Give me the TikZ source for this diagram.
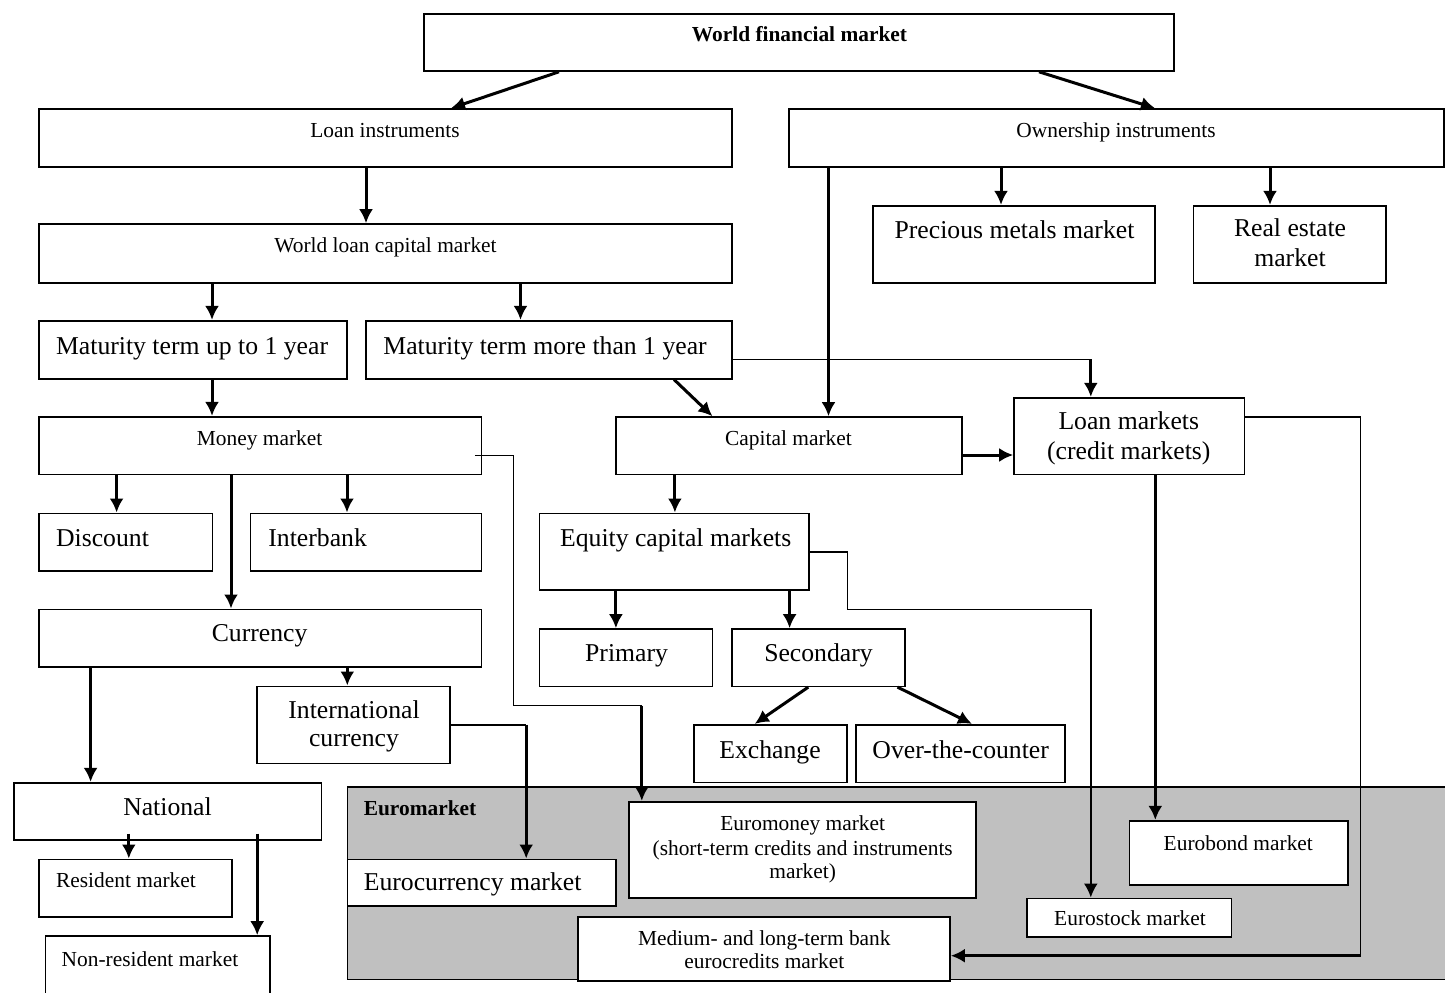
\documentclass[tikz,border=0pt]{standalone}
\usepackage{fontspec}
\setmainfont{Liberation Serif}
\usetikzlibrary{arrows.meta,fit}
\newcommand\fbig{\fontsize{12.85}{15.4}\selectfont}
\newcommand\fsmall{\fontsize{10.7}{13}\selectfont}
\definecolor{eurogray}{HTML}{C0C0C0}
\begin{document}
\begin{tikzpicture}[x=0.5pt,y=-0.5pt,
  bx/.style={draw, line width=0.8pt, inner sep=0pt, fill=white},
  txt/.style={inner sep=0pt, font=\fsmall},
  big/.style={inner sep=0pt, font=\fbig},
  thk/.style={line width=1.5pt},
  med/.style={line width=1.0pt},
  thn/.style={line width=0.65pt},
  arr/.style={thk, -{Latex[length=7pt,width=7pt]}},
  arrm/.style={med, -{Latex[length=7pt,width=7pt]}}]
\useasboundingbox (0,0) rectangle (1445,992);

% Euromarket region
\node[draw, line width=0.8pt, fill=eurogray, inner sep=0pt, fit={(347.3,787) (1447,979.3)}] (euro) {};
\node[txt, anchor=base west] (t-euro) at (363.4,815) {\bfseries Euromarket};

% boxes
\node[bx, fit={(424,14) (1174,71)}] (wfm) {};
\node[bx, fit={(39,109) (732,167)}] (li) {};
\node[bx, fit={(789,109) (1444,167)}] (oi) {};
\node[bx, fit={(39,224) (732,283)}] (wlcm) {};
\node[bx, fit={(873,205.7) (1155,282.7)}] (pm) {};
\node[bx, fit={(1193.4,205.7) (1386,282.7)}] (re) {};
\node[bx, fit={(39,320.7) (347,378.7)}] (mt1) {};
\node[bx, fit={(366,320.7) (732,378.7)}] (mt2) {};
\node[bx, fit={(39,416.7) (481.4,474.3)}] (mm) {};
\node[bx, fit={(616,417) (962,474.3)}] (cm) {};
\node[bx, fit={(1014,397.7) (1244.6,474.3)}] (lm) {};
\node[bx, fit={(39,513.3) (212.4,571)}] (disc) {};
\node[bx, fit={(250.6,513.3) (481.4,571)}] (ib) {};
\node[bx, fit={(539.4,513.3) (809,590)}] (ecm) {};
\node[bx, fit={(39,609.3) (481.4,667)}] (cur) {};
\node[bx, fit={(539.4,629) (712.4,686.3)}] (prim) {};
\node[bx, fit={(732,629) (904.8,686.3)}] (sec) {};
\node[bx, fit={(257.2,686.3) (449.7,763.3)}] (intl) {};
\node[bx, fit={(693.7,724.7) (846.7,782.3)}] (exch) {};
\node[bx, fit={(855.7,724.7) (1065,782.3)}] (otc) {};
\node[bx, fit={(14.2,782.7) (321.4,840)}] (nat) {};
\node[bx, fit={(628.8,801.7) (976,897.7)}] (emm) {};
\node[bx, fit={(1129.4,820.7) (1347.8,885)}] (eb) {};
\node[bx, fit={(39.2,859.3) (231.7,917)}] (res) {};
\node[bx, fit={(347.3,859.3) (615.9,905.7)}] (ecur) {};
\node[bx, fit={(1026.7,898.3) (1231.6,936.7)}] (es) {};
\node[bx, fit={(578,917) (950,981)}] (medb) {};
\node[bx, fit={(45.3,936) (270,1000)}] (nres) {};

% texts
\node[txt, anchor=base] (t-wfm) at (799.5,41) {\bfseries World financial market};
\node[txt, anchor=base] (t-li) at (385,137.3) {Loan instruments};
\node[txt, anchor=base] (t-oi) at (1116,137.3) {Ownership instruments};
\node[txt, anchor=base] (t-wlcm) at (385.5,252.7) {World loan capital market};
\node[big, anchor=base] (t-pm) at (1014.5,238) {Precious metals market};
\node[big, anchor=base] (t-re1) at (1290,236) {Real estate};
\node[big, anchor=base] (t-re2) at (1290,266) {market};
\node[big, anchor=base west] (t-mt1) at (55.7,354) {Maturity term up to 1 year};
\node[big, anchor=base west] (t-mt2) at (383,354) {Maturity term more than 1 year};
\node[txt, anchor=base] (t-mm) at (259.6,445.7) {Money market};
\node[txt, anchor=base] (t-cm) at (788.5,445.7) {Capital market};
\node[big, anchor=base] (t-lm1) at (1128.8,429) {Loan markets};
\node[big, anchor=base] (t-lm2) at (1128.8,459) {(credit markets)};
\node[big, anchor=base west] (t-disc) at (55.7,546) {Discount};
\node[big, anchor=base west] (t-ib) at (268,546) {Interbank};
\node[big, anchor=base west] (t-ecm) at (559.7,546) {Equity capital markets};
\node[big, anchor=base] (t-cur) at (259.6,641.7) {Currency};
\node[big, anchor=base] (t-prim) at (626.6,661.7) {Primary};
\node[big, anchor=base] (t-sec) at (818.5,661.7) {Secondary};
\node[big, anchor=base] (t-intl1) at (354,718.3) {International};
\node[big, anchor=base] (t-intl2) at (354,746.7) {currency};
\node[big, anchor=base] (t-exch) at (770,758) {Exchange};
\node[big, anchor=base] (t-otc) at (960.7,758) {Over-the-counter};
\node[big, anchor=base] (t-nat) at (167.5,815) {National};
\node[txt, anchor=base] (t-emm1) at (802.7,830) {Euromoney market};
\node[txt, anchor=base] (t-emm2) at (802.7,855) {(short-term credits and instruments};
\node[txt, anchor=base] (t-emm3) at (802.7,878) {market)};
\node[txt, anchor=base] (t-eb) at (1238.3,850) {Eurobond market};
\node[txt, anchor=base west] (t-res) at (55.7,887.3) {Resident market};
\node[big, anchor=base west] (t-ecur) at (363.4,890) {Eurocurrency market};
\node[txt, anchor=base] (t-es) at (1130,925) {Eurostock market};
\node[txt, anchor=base] (t-med1) at (764.3,945) {Medium- and long-term bank};
\node[txt, anchor=base] (t-med2) at (764.3,968.3) {eurocredits market};
\node[txt, anchor=base west] (t-nres) at (61.3,966) {Non-resident market};

% helper coordinates
\coordinate (natb) at ([yshift=3.6pt]nat.south);
\coordinate (c-mt2) at (1090.8,359.3);
\coordinate (c-mm1) at (513.4,455.3);
\coordinate (c-mm2) at (513.4,705.5);
\coordinate (c-mm3) at (641.8,705.5);
\coordinate (c-lm1) at (1360.5,417);
\coordinate (c-lm2) at (1360.5,955.7);
\coordinate (c-ec1) at (847.5,552);
\coordinate (c-ec2) at (847.5,609.3);
\coordinate (c-ec3) at (1090.8,609.3);
\coordinate (c-in1) at (526.2,724.7);

% connectors
\draw[arr] (wfm.south -| 559,0) -- (li.north -| 451,0);
\draw[arr] (wfm.south -| 1039,0) -- (oi.north -| 1155,0);
\draw[arr] (li.south -| 366,0) -- (wlcm.north -| 366,0);
\draw[arr] (wlcm.south -| 212,0) -- (mt1.north -| 212,0);
\draw[arr] (wlcm.south -| 520.5,0) -- (mt2.north -| 520.5,0);
\draw[arr] (oi.south -| 1001,0) -- (pm.north -| 1001,0);
\draw[arr] (oi.south -| 1270,0) -- (re.north -| 1270,0);
\draw[arr] (oi.south -| 828.5,0) -- (cm.north -| 828.5,0);
\draw[arr] (mt1.south -| 212,0) -- (mm.north -| 212,0);
\draw[arr] (mt2.south -| 674,0) -- (cm.north -| 712.4,0);
\draw[thn] (mt2.east |- c-mt2) -- (c-mt2);
\draw[arr] (c-mt2) -- (lm.north -| c-mt2);
\draw[arr] (mm.south -| 116.6,0) -- (disc.north -| 116.6,0);
\draw[arr] (mm.south -| 231,0) -- (cur.north -| 231,0);
\draw[arr] (mm.south -| 347,0) -- (ib.north -| 347,0);
\draw[thn] ([xshift=-3.7pt]mm.east |- c-mm1) -- (c-mm1) -- (c-mm2) -- (c-mm3);
\draw[arr] (c-mm3) -- (emm.north -| c-mm3);
\draw[arr] (cm.east |- 0,455) -- (lm.west |- 0,455);
\draw[thn] (lm.east |- c-lm1) -- (c-lm1) -- (c-lm2);
\draw[arr] (c-lm2) -- (medb.east |- c-lm2);
\draw[arr] (lm.south -| 1155.3,0) -- (eb.north -| 1155.3,0);
\draw[arr] (cm.south -| 674.9,0) -- (ecm.north -| 674.9,0);
\draw[arr] (ecm.south -| 615.9,0) -- (prim.north -| 615.9,0);
\draw[arr] (ecm.south -| 789.6,0) -- (sec.north -| 789.6,0);
\draw[thn] (ecm.east |- c-ec1) -- (c-ec1) -- (c-ec2) -- (c-ec3);
\draw[arrm] (c-ec3) -- (es.north -| c-ec3);
\draw[arr] (sec.south -| 808.3,0) -- (exch.north -| 754.7,0);
\draw[arr] (sec.south -| 897.5,0) -- (otc.north -| 972,0);
\draw[arr] (cur.south -| 90.6,0) -- (nat.north -| 90.6,0);
\draw[arr] (cur.south -| 347.3,0) -- (intl.north -| 347.3,0);
\draw[med] (intl.east |- c-in1) -- (c-in1);
\draw[arr] (c-in1) -- (ecur.north -| c-in1);
\draw[arr] (natb -| 128.8,0) -- (res.north -| 128.8,0);
\draw[arr] (natb -| 257.2,0) -- (nres.north -| 257.2,0);
\end{tikzpicture}
\end{document}
